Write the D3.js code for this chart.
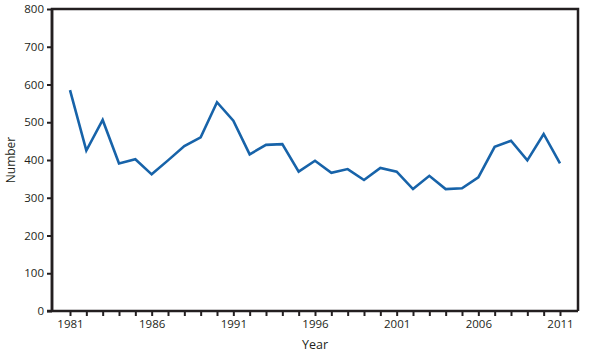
<!DOCTYPE html>
<html>
<head>
<meta charset="utf-8">
<script src="https://cdn.jsdelivr.net/npm/d3@7"></script>
<style>
  body { margin: 0; background: #fff; }
  text { font-family: "Open Sans", sans-serif; fill: #231f20; }
</style>
</head>
<body>
<div id="chart"></div>
<script>
// values
var years = d3.range(1981, 2012);
var counts = [585, 425, 506, 391, 402, 362, 399, 437, 460, 553, 504, 415, 440, 442,
              369, 398, 366, 376, 347, 379, 369, 323, 358, 323, 325, 354, 435, 451,
              399, 469, 391];
var yTicks = [0, 100, 200, 300, 400, 500, 600, 700, 800];
var xLabels = [1981, 1986, 1991, 1996, 2001, 2006, 2011];

var margin = {top: 9, right: 18, bottom: 42, left: 52};
var width = 596 - margin.left - margin.right;
var height = 353 - margin.top - margin.bottom;

var svg = d3.select("#chart").append("svg")
    .attr("width", 596)
    .attr("height", 353)
    .append("g")
    .attr("transform", "translate(" + margin.left + "," + margin.top + ")");

var x = d3.scaleLinear()
    .domain([1981 - 18 / 16.33, 2011 + 18 / 16.33])
    .range([0, width]);

var y = d3.scaleLinear()
    .domain([0, 800])
    .range([height, 0]);

// frame top + right
svg.append("path")
    .attr("d", "M0," + height + "V0H" + width + "V" + height)
    .attr("fill", "none")
    .attr("stroke", "#231f20")
    .attr("stroke-width", 2.5);

var yAxis = svg.append("g")
    .call(d3.axisLeft(y).tickValues(yTicks).tickSize(5).tickPadding(3));

var xAxis = svg.append("g")
    .attr("transform", "translate(0," + height + ")")
    .call(d3.axisBottom(x).tickValues(years).tickSize(5).tickPadding(4)
        .tickFormat(function (d) { return xLabels.indexOf(d) >= 0 ? d : ""; }));

[yAxis, xAxis].forEach(function (a) {
    a.selectAll("text").attr("font-size", 11.5).attr("font-family", "Open Sans, sans-serif").attr("fill", "#231f20");
    a.selectAll("line").attr("stroke", "#231f20").attr("stroke-width", 2);
    a.select(".domain").remove();
});

// axis lines
svg.append("line")
    .attr("x1", -5).attr("x2", width)
    .attr("y1", height).attr("y2", height)
    .attr("stroke", "#231f20").attr("stroke-width", 2.5);
svg.append("line")
    .attr("x1", 0).attr("x2", 0)
    .attr("y1", 0).attr("y2", height)
    .attr("stroke", "#231f20").attr("stroke-width", 2.5);

var line = d3.line()
    .x(function (d, i) { return x(years[i]); })
    .y(function (d) { return y(d); });

svg.append("path")
    .datum(counts)
    .attr("d", line)
    .attr("fill", "none")
    .attr("stroke", "#1763a9")
    .attr("stroke-width", 2.6)
    .attr("stroke-linejoin", "miter");

svg.append("text")
    .attr("transform", "translate(" + (-37) + "," + (height / 2) + ") rotate(-90)")
    .attr("text-anchor", "middle")
    .attr("font-size", 12)
    .text("Number");

svg.append("text")
    .attr("x", x(1996))
    .attr("y", height + 38)
    .attr("text-anchor", "middle")
    .attr("font-size", 12.5)
    .text("Year");
</script>
</body>
</html>
